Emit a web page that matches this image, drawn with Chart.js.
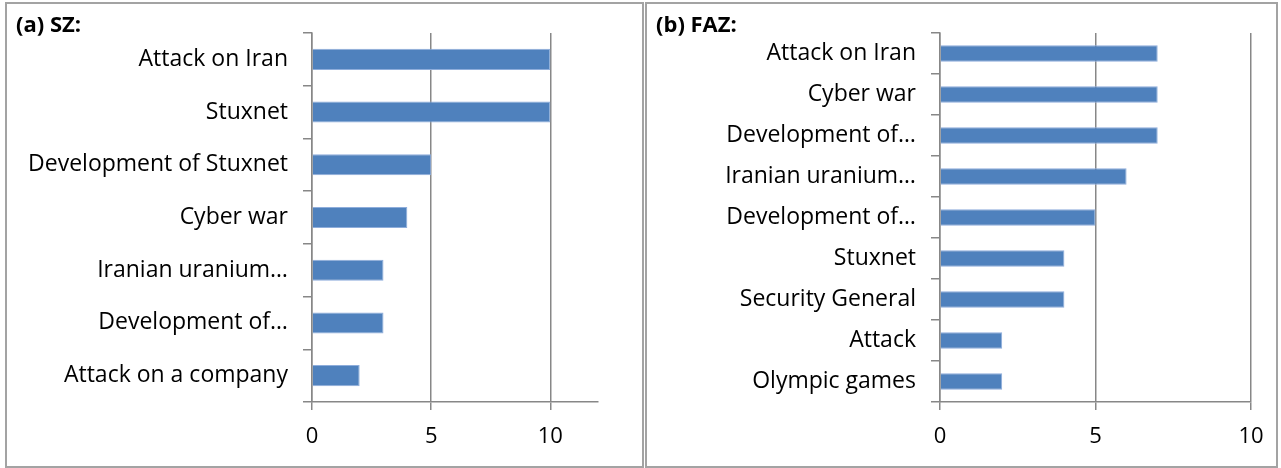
<!DOCTYPE html>
<html><head><meta charset="utf-8">
<script src="https://cdn.jsdelivr.net/npm/chart.js@4"></script>
<style>
body{margin:0;background:#fff;width:1281px;height:468px;position:relative;overflow:hidden}
.panel{position:absolute;border:2px solid #a3a3a3;box-sizing:border-box}
.cw{position:absolute;top:0;height:468px}
</style></head><body>
<div class="panel" style="left:5px;top:2px;width:639px;height:466px"></div>
<div class="panel" style="left:645px;top:2px;width:633px;height:466px"></div>
<div class="cw" style="left:0;width:643px"><canvas id="c1"></canvas></div>
<div class="cw" style="left:643px;width:638px"><canvas id="c2"></canvas></div>
<script>
const szCategories = ["Attack on Iran", "Stuxnet", "Development of Stuxnet", "Cyber war", "Iranian uranium…", "Development of…", "Attack on a company"];
const szValues = [10, 10, 5, 4, 3, 3, 2];
const fazCategories = ["Attack on Iran", "Cyber war", "Development of…", "Iranian uranium…", "Development of…", "Stuxnet", "Security General", "Attack", "Olympic games"];
const fazValues = [7, 7, 7, 6, 5, 4, 4, 2, 2];
const xTickValues = [0, 5, 10];

const FAM = '"Open Sans", sans-serif';
const GRID = '#878787';
const BAR = '#4F81BD';

function makeChart(id, title, cats, vals, xmax, padLeft, padRight, axisW, barPct) {
  return new Chart(document.getElementById(id), {
    type: 'bar',
    data: { labels: cats, datasets: [{ data: vals, backgroundColor: BAR, borderColor: '#8eaddb', borderWidth: 1, barPercentage: barPct, categoryPercentage: 1 }] },
    options: {
      indexAxis: 'y', responsive: true, maintainAspectRatio: false, animation: false,
      layout: { padding: { left: padLeft, right: padRight, top: 0, bottom: 0 } },
      plugins: {
        legend: { display: false }, tooltip: { enabled: false },
        title: { display: true, text: title, align: 'start', color: '#000',
          font: { family: FAM, size: 22, weight: 'bold', lineHeight: 1 },
          padding: { top: 15, bottom: -4 } }
      },
      scales: {
        x: {
          min: 0, max: xmax,
          afterBuildTicks: s => { s.ticks = xTickValues.filter(v => v <= xmax).map(v => ({ value: v })); },
          afterFit: s => { s.height = 66; },
          ticks: { stepSize: 5, color: '#000', font: { family: FAM, size: 22 }, padding: 14, maxRotation: 0 },
          grid: { color: GRID, lineWidth: 1.5, tickLength: 8 },
          border: { color: GRID, width: 1.5 }
        },
        y: {
          afterFit: s => { s.width = axisW; },
          ticks: { color: '#000', font: { family: FAM, size: 23 }, padding: 15, autoSkip: false },
          grid: { offset: true, drawOnChartArea: false, color: GRID, lineWidth: 1.5, tickLength: 9 },
          border: { color: GRID, width: 1.5 }
        }
      }
    }
  });
}
makeChart('c1', '(a) SZ:', szCategories, szValues, 12, 16, 45, 296, 0.4);
makeChart('c2', '(b) FAZ:', fazCategories, fazValues, 10, 13, 30, 284, 0.4);
</script>
</body></html>
